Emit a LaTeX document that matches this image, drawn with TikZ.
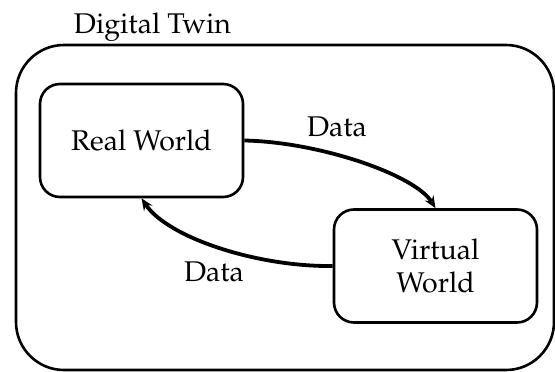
\documentclass[tikz,border=0pt]{standalone}
\usepackage[T1]{fontenc}
\usepackage{mathpazo}
\usetikzlibrary{arrows.meta}
\tikzset{
  txt/.style={font=\fontsize{28.5}{33}\selectfont, inner sep=0pt},
  worldbox/.style={draw, line width=2.6pt, rounded corners=20pt, minimum width=203pt, minimum height=113pt, align=center, txt},
  outerbox/.style={draw, line width=2.6pt, rounded corners=48pt, minimum width=538pt, minimum height=325pt, inner sep=0pt},
  arr/.style={line width=3.8pt, -{Stealth[length=12pt,width=10pt]}},
}
\begin{document}
\begin{tikzpicture}[x=1pt,y=-1pt]
\useasboundingbox (0,0) rectangle (555,372);
\clip (0,0) rectangle (555,372);
\node[outerbox] (dt) at (285,207.5) {};
\node[txt, anchor=base] (dtlabel) at (152.5,34) {Digital Twin};
\node[worldbox] (rw) at (141.5,140.5) {Real World};
\node[worldbox] (vw) at (435.5,266) {Virtual\\World};
\draw[arr] (rw.east) .. controls (320,142) and (415,175) .. (vw.north);
\draw[arr] (vw.west) .. controls (258,267) and (168,238) .. (rw.south);
\node[txt, anchor=base] (d1) at (337,136) {Data};
\node[txt, anchor=base] (d2) at (214,281) {Data};
\end{tikzpicture}
\end{document}
